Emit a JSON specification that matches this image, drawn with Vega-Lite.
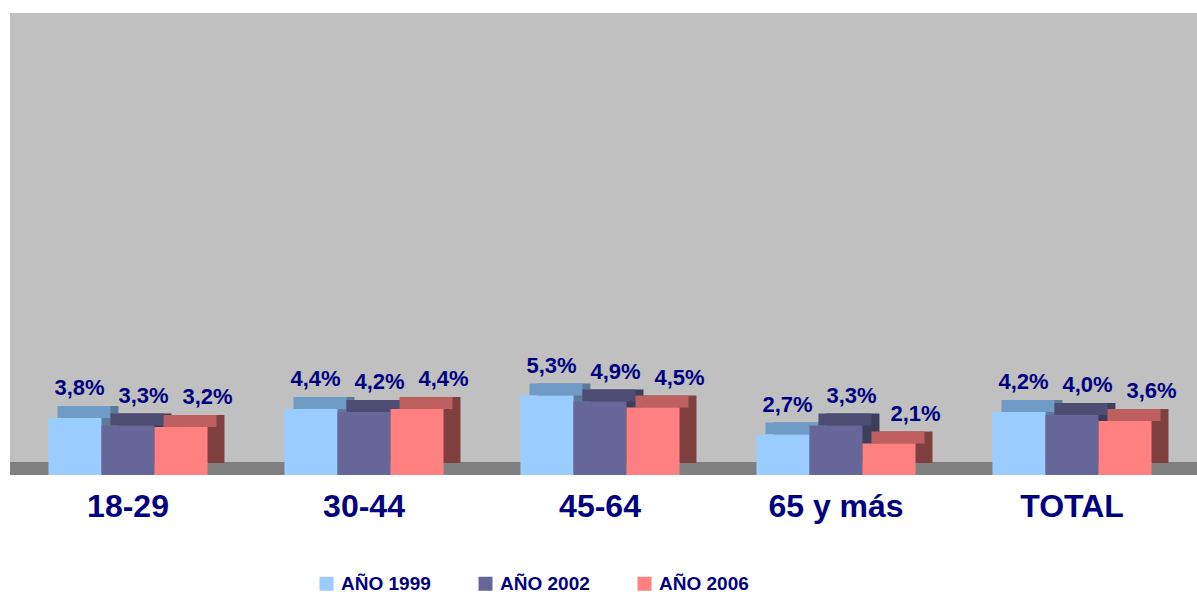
{
  "$schema": "https://vega.github.io/schema/vega-lite/v6.json",
  "width": 1187,
  "height": 462,
  "autosize": {"type": "none"},
  "padding": {"left": 10, "top": 13, "right": 0, "bottom": 120},
  "background": "white",
  "config": {
    "view": {"fill": "#C0C0C0", "stroke": null},
    "font": "Liberation Sans"
  },
  "data": {
    "values": [
      {"grupo": "18-29", "serie": "AÑO 1999", "v": 3.8},
      {"grupo": "18-29", "serie": "AÑO 2002", "v": 3.3},
      {"grupo": "18-29", "serie": "AÑO 2006", "v": 3.2},
      {"grupo": "30-44", "serie": "AÑO 1999", "v": 4.4},
      {"grupo": "30-44", "serie": "AÑO 2002", "v": 4.2},
      {"grupo": "30-44", "serie": "AÑO 2006", "v": 4.4},
      {"grupo": "45-64", "serie": "AÑO 1999", "v": 5.3},
      {"grupo": "45-64", "serie": "AÑO 2002", "v": 4.9},
      {"grupo": "45-64", "serie": "AÑO 2006", "v": 4.5},
      {"grupo": "65 y más", "serie": "AÑO 1999", "v": 2.7},
      {"grupo": "65 y más", "serie": "AÑO 2002", "v": 3.3},
      {"grupo": "65 y más", "serie": "AÑO 2006", "v": 2.1},
      {"grupo": "TOTAL", "serie": "AÑO 1999", "v": 4.2},
      {"grupo": "TOTAL", "serie": "AÑO 2002", "v": 4.0},
      {"grupo": "TOTAL", "serie": "AÑO 2006", "v": 3.6}
    ]
  },
  "encoding": {
    "x": {
      "field": "grupo", "type": "nominal", "sort": null,
      "scale": {"range": [0, 1180], "paddingInner": 0.326, "paddingOuter": 0.163},
      "axis": {
        "title": null, "domain": false, "ticks": false, "grid": false,
        "labelAngle": 0, "labelFontSize": 32, "labelFontWeight": "bold",
        "labelColor": "#000080", "labelPadding": 16, "labelBaseline": "top",
        "labelFont": "Liberation Sans"
      }
    }
  },
  "layer": [
    {
      "data": {"values": [{"a": 0, "b": 0.87}]},
      "mark": {"type": "rect", "color": "#808080"},
      "encoding": {
        "x": null,
        "y": {"field": "a", "type": "quantitative", "scale": {"domain": [0, 30.8], "nice": false}, "axis": null},
        "y2": {"field": "b"}
      }
    },
    {
      "mark": {"type": "bar", "yOffset": -12, "y2Offset": -12},
      "encoding": {
        "xOffset": {"field": "serie", "type": "nominal", "sort": null, "scale": {"range": [17, 176], "paddingInner": 0, "paddingOuter": 0}},
        "y": {"field": "v", "type": "quantitative"},
        "y2": {"datum": 0},
        "color": {"field": "serie", "type": "nominal", "legend": null,
          "scale": {"domain": ["AÑO 1999", "AÑO 2002", "AÑO 2006"], "range": ["#5C7A99", "#3D3D5C", "#804040"]}}
      }
    },
    {
      "mark": {"type": "bar", "yOffset": -12},
      "encoding": {
        "xOffset": {"field": "serie", "type": "nominal", "sort": null, "scale": {"range": [9, 168], "paddingInner": 0, "paddingOuter": 0}},
        "y": {"field": "v", "type": "quantitative"},
        "y2": {"field": "v"},
        "color": {"field": "serie", "type": "nominal", "legend": null,
          "scale": {"domain": ["AÑO 1999", "AÑO 2002", "AÑO 2006"], "range": ["#6F9BC6", "#4D4D73", "#BF6060"]}}
      }
    },
    {
      "mark": {"type": "bar"},
      "encoding": {
        "xOffset": {"field": "serie", "type": "nominal", "sort": null, "scale": {"paddingInner": 0, "paddingOuter": 0}},
        "y": {"field": "v", "type": "quantitative"},
        "color": {"field": "serie", "type": "nominal",
          "scale": {"domain": ["AÑO 1999", "AÑO 2002", "AÑO 2006"], "range": ["#99CCFF", "#666699", "#FF8080"]},
          "legend": {
            "title": null, "orient": "none", "direction": "horizontal",
            "legendX": 307, "legendY": 561, "padding": 0,
            "symbolType": "square", "symbolSize": 196, "symbolStrokeWidth": 0,
            "labelFontSize": 19, "labelFontWeight": "bold", "labelColor": "#000080",
            "labelOffset": 5, "columnPadding": 45, "labelFont": "Liberation Sans"
          }
        }
      }
    },
    {
      "transform": [
        {"calculate": "replace(format(datum.v, '.1f'), '.', ',') + '%'", "as": "lbl"}
      ],
      "mark": {"type": "text", "dy": -30, "baseline": "middle", "fontSize": 22, "fontWeight": "bold", "color": "#000080"},
      "encoding": {
        "xOffset": {"field": "serie", "type": "nominal", "sort": null, "scale": {"range": [31, 159], "padding": 0}},
        "y": {"field": "v", "type": "quantitative"},
        "text": {"field": "lbl"}
      }
    }
  ],
  "resolve": {"scale": {"color": "independent", "xOffset": "independent"}}
}
